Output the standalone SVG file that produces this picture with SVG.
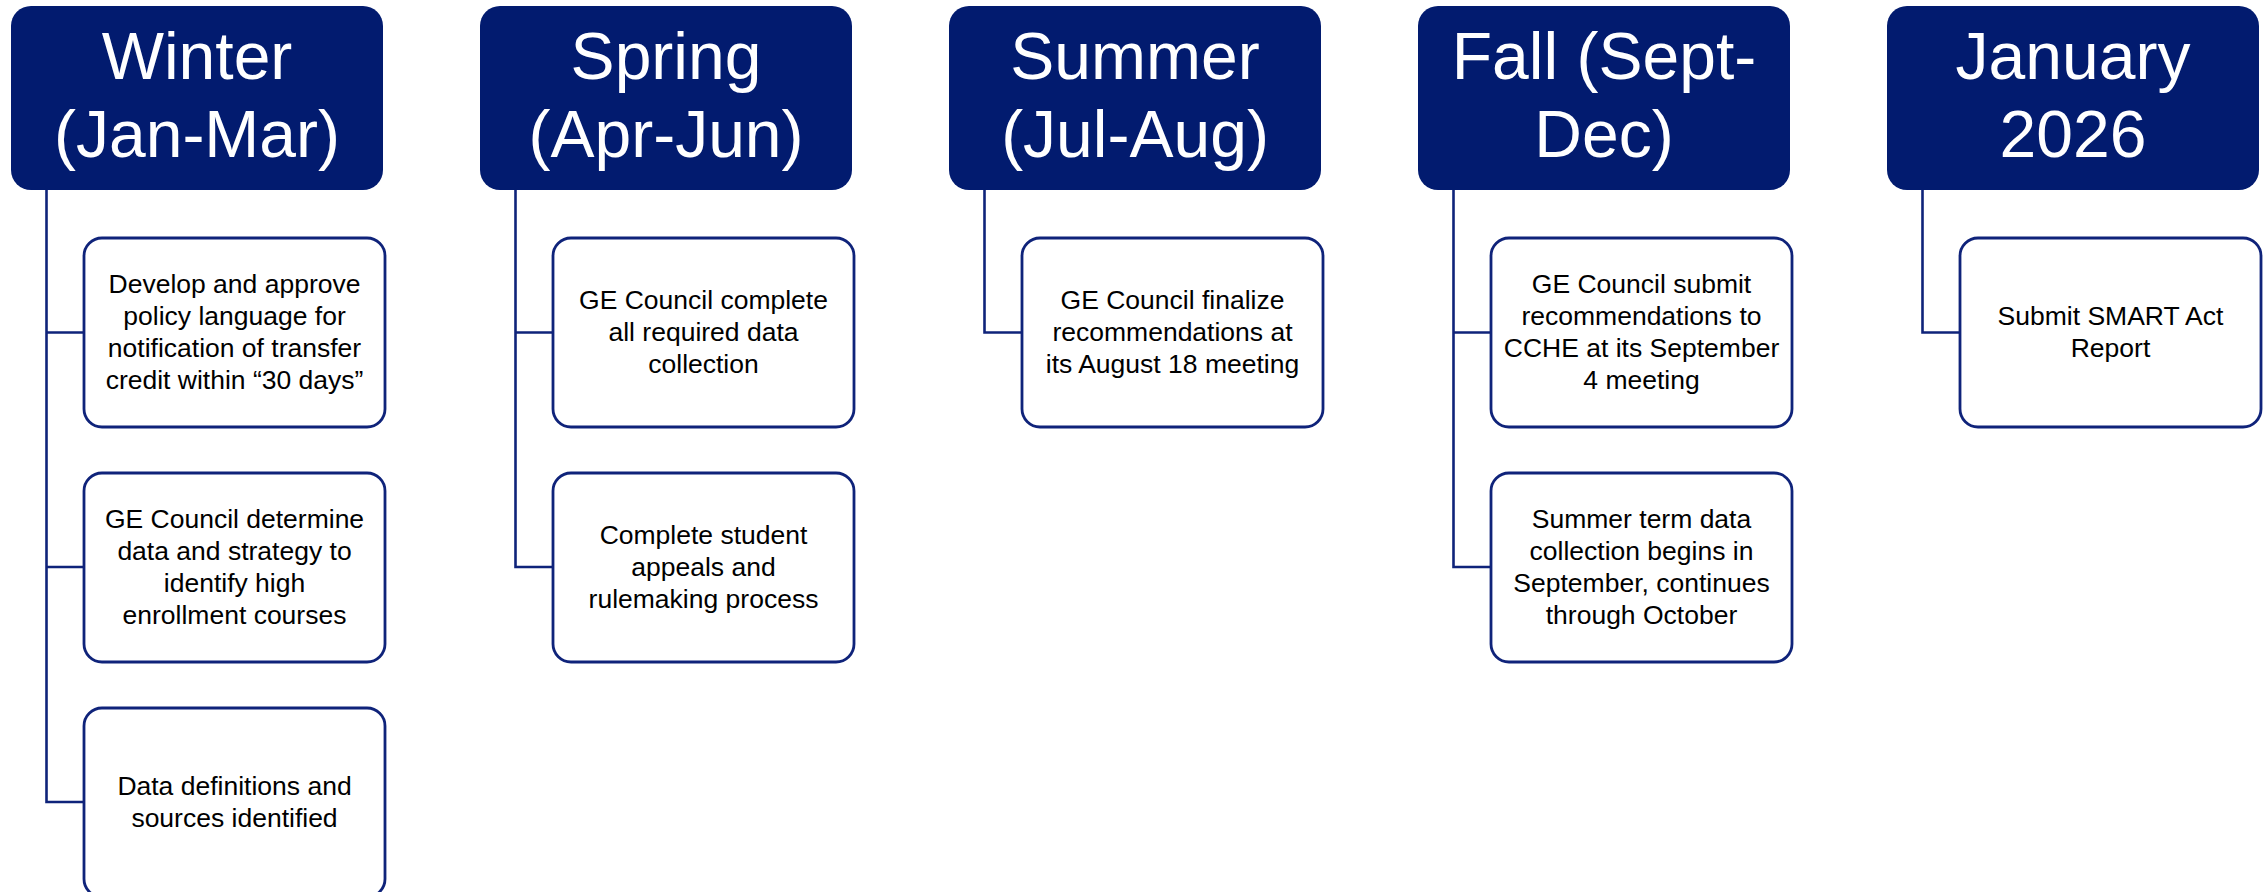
<svg xmlns="http://www.w3.org/2000/svg" width="2267" height="892" viewBox="0 0 2267 892">
<style>
.hdr{fill:#021b6f;}
.htx{fill:#ffffff;font-family:"Liberation Sans",Arial,sans-serif;font-size:66px;text-anchor:middle;}
.box{fill:#ffffff;stroke:#0f237a;stroke-width:2.8;}
.btx{fill:#000000;font-family:"Liberation Sans",Arial,sans-serif;font-size:26.5px;text-anchor:middle;}
.con{fill:none;stroke:#0f237a;stroke-width:2.6;}
</style>
<rect width="2267" height="892" fill="#ffffff"/>
<g id="connectors">
<path class="con" d="M46.5 190 V802 H84 M46.5 332.5 H84 M46.5 567 H84"/>
<path class="con" d="M515.5 190 V567 H553 M515.5 332.5 H553"/>
<path class="con" d="M984.5 190 V332.5 H1022"/>
<path class="con" d="M1453.5 190 V567 H1491 M1453.5 332.5 H1491"/>
<path class="con" d="M1922.5 190 V332.5 H1960"/>
</g>
<g id="h-winter"><rect class="hdr" x="11" y="6" width="372" height="184" rx="20"/><text class="htx" x="197" y="79">Winter</text><text class="htx" x="197" y="157">(Jan-Mar)</text></g>
<g id="h-spring"><rect class="hdr" x="480" y="6" width="372" height="184" rx="20"/><text class="htx" x="666" y="79">Spring</text><text class="htx" x="666" y="157">(Apr-Jun)</text></g>
<g id="h-summer"><rect class="hdr" x="949" y="6" width="372" height="184" rx="20"/><text class="htx" x="1135" y="79">Summer</text><text class="htx" x="1135" y="157">(Jul-Aug)</text></g>
<g id="h-fall"><rect class="hdr" x="1418" y="6" width="372" height="184" rx="20"/><text class="htx" x="1604" y="79">Fall (Sept-</text><text class="htx" x="1604" y="157">Dec)</text></g>
<g id="h-jan"><rect class="hdr" x="1887" y="6" width="372" height="184" rx="20"/><text class="htx" x="2073" y="79">January</text><text class="htx" x="2073" y="157">2026</text></g>

<g id="winter-1"><rect class="box" x="84" y="238" width="301" height="189" rx="18"/>
<text class="btx" x="234.5" y="293">Develop and approve</text><text class="btx" x="234.5" y="325">policy language for</text><text class="btx" x="234.5" y="357">notification of transfer</text><text class="btx" x="234.5" y="389">credit within “30 days”</text></g>
<g id="winter-2"><rect class="box" x="84" y="473" width="301" height="189" rx="18"/>
<text class="btx" x="234.5" y="528">GE Council determine</text><text class="btx" x="234.5" y="560">data and strategy to</text><text class="btx" x="234.5" y="592">identify high</text><text class="btx" x="234.5" y="624">enrollment courses</text></g>
<g id="winter-3"><rect class="box" x="84" y="708" width="301" height="189" rx="18"/>
<text class="btx" x="234.5" y="795">Data definitions and</text><text class="btx" x="234.5" y="827">sources identified</text></g>

<g id="spring-1"><rect class="box" x="553" y="238" width="301" height="189" rx="18"/>
<text class="btx" x="703.5" y="309">GE Council complete</text><text class="btx" x="703.5" y="341">all required data</text><text class="btx" x="703.5" y="373">collection</text></g>
<g id="spring-2"><rect class="box" x="553" y="473" width="301" height="189" rx="18"/>
<text class="btx" x="703.5" y="544">Complete student</text><text class="btx" x="703.5" y="576">appeals and</text><text class="btx" x="703.5" y="608">rulemaking process</text></g>

<g id="summer-1"><rect class="box" x="1022" y="238" width="301" height="189" rx="18"/>
<text class="btx" x="1172.5" y="309">GE Council finalize</text><text class="btx" x="1172.5" y="341">recommendations at</text><text class="btx" x="1172.5" y="373">its August 18 meeting</text></g>

<g id="fall-1"><rect class="box" x="1491" y="238" width="301" height="189" rx="18"/>
<text class="btx" x="1641.5" y="293">GE Council submit</text><text class="btx" x="1641.5" y="325">recommendations to</text><text class="btx" x="1641.5" y="357">CCHE at its September</text><text class="btx" x="1641.5" y="389">4 meeting</text></g>
<g id="fall-2"><rect class="box" x="1491" y="473" width="301" height="189" rx="18"/>
<text class="btx" x="1641.5" y="528">Summer term data</text><text class="btx" x="1641.5" y="560">collection begins in</text><text class="btx" x="1641.5" y="592">September, continues</text><text class="btx" x="1641.5" y="624">through October</text></g>

<g id="jan-1"><rect class="box" x="1960" y="238" width="301" height="189" rx="18"/>
<text class="btx" x="2110.5" y="325">Submit SMART Act</text><text class="btx" x="2110.5" y="357">Report</text></g>
</svg>
